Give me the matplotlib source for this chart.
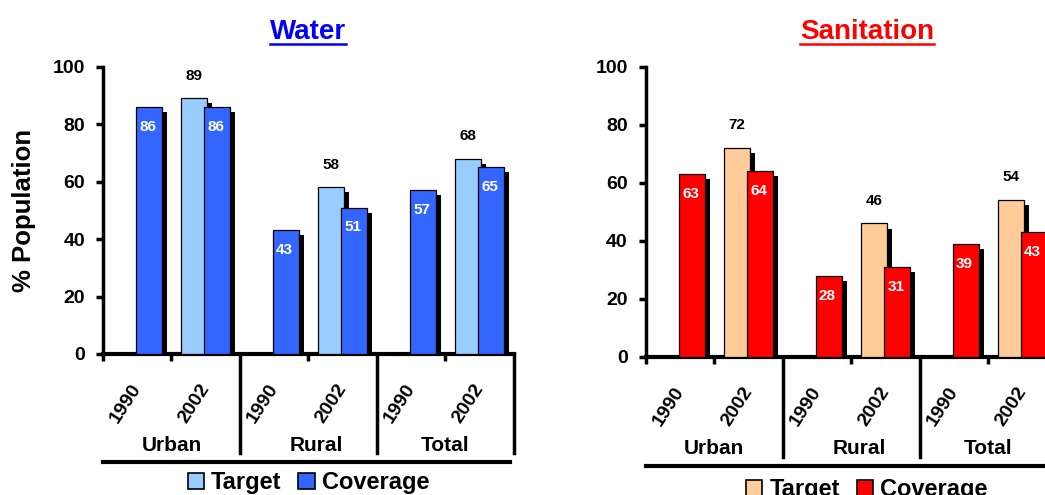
import matplotlib
matplotlib.use("Agg")
import matplotlib.pyplot as plt
from matplotlib.patches import Patch
from matplotlib.lines import Line2D
import matplotlib.transforms as mtransforms

plt.rcParams['font.family'] = ['Liberation Sans', 'DejaVu Sans']
plt.rcParams['font.weight'] = 'bold'

groups = ["Urban", "Rural", "Total"]
years = ["1990", "2002"] * 3

# None = no target bar for the baseline year
water_target = [None, 89, None, 58, None, 68]
water_cov = [86, 86, 43, 51, 57, 65]
san_target = [None, 72, None, 46, None, 54]
san_cov = [63, 64, 28, 31, 39, 43]

yticks = [0, 20, 40, 60, 80, 100]

fig = plt.figure(figsize=(10.45, 4.95), dpi=100)
ax_w = fig.add_axes([0.0986, 0.285, 0.393, 0.580])
ax_s = fig.add_axes([0.618, 0.279, 0.393, 0.586])

BW = 0.38
T_OFF = -0.164
C_OFF = 0.172
SH_X = 0.073
SH_Y = 1.75


def bar_with_shadow(ax, x, h, color, label_color, label_above):
    ax.bar(x + SH_X, max(h - SH_Y, 0), BW, color='black', zorder=2, linewidth=0)
    ax.bar(x, h, BW, color=color, edgecolor='black', linewidth=0.9, zorder=3)
    if label_above:
        ax.text(x, h + 5.5, str(h), ha='center', va='bottom', fontsize=11,
                color=label_color, fontweight='bold', zorder=5)
    else:
        ax.text(x - 0.02, h - 4.5, str(h), ha='center', va='top', fontsize=11,
                color=label_color, fontweight='bold', zorder=5)


def panel(ax, target, cov, c_target, c_cov, title, title_color, title_x, legend_x, legend_y):
    for i, (t, c) in enumerate(zip(target, cov)):
        if t is not None:
            bar_with_shadow(ax, i + T_OFF, t, c_target, 'black', True)
        bar_with_shadow(ax, i + C_OFF, c, c_cov, 'white', False)

    ax.set_xlim(-0.5, 5.5)
    ax.set_ylim(0, 100)
    ax.set_yticks(yticks)
    ax.tick_params(axis='y', labelsize=14, width=2.5, length=5, pad=8)
    for lab in ax.get_yticklabels():
        lab.set_fontweight('bold')
    ax.set_xticks([-0.5, 0.5, 2.5, 4.5])
    ax.set_xticklabels([])
    ax.tick_params(axis='x', width=2.5, length=5)
    for side in ['top', 'right']:
        ax.spines[side].set_visible(False)
    ax.spines['left'].set_linewidth(2.5)
    ax.spines['bottom'].set_linewidth(3)

    tr = mtransforms.blended_transform_factory(ax.transData, ax.transAxes)
    # long separators between groups
    for gx in [1.5, 3.5, 5.5]:
        ax.add_line(Line2D([gx, gx], [0, -0.345], transform=tr, color='black',
                           linewidth=2.5, clip_on=False))
    ax.add_line(Line2D([-0.5, 5.45], [-0.376, -0.376], transform=tr, color='black',
                       linewidth=3, clip_on=False))

    for i, y in enumerate(years):
        ax.annotate(y, xy=(i, 0), xycoords=tr, xytext=(-8, -36), textcoords='offset points',
                    rotation=57, ha='center', va='center', fontsize=14, fontweight='bold')
    for g, name in enumerate(groups):
        ax.annotate(name, xy=(2 * g + 0.5, 0), xycoords=tr, xytext=(0 if g != 1 else 6, -66),
                    textcoords='offset points', ha='center', va='center',
                    fontsize=15, fontweight='bold')

    handles = [Patch(facecolor=c_target, edgecolor='black', linewidth=1.2),
               Patch(facecolor=c_cov, edgecolor='black', linewidth=1.2)]
    ax.legend(handles, ["Target", "Coverage"], loc='center', ncol=2, frameon=False,
              bbox_to_anchor=(legend_x, legend_y), prop={'size': 17, 'weight': 'bold'},
              handlelength=0.7, handleheight=0.7, handletextpad=0.3, columnspacing=0.7,
              borderaxespad=0)

    t = ax.text(title_x, 1.0, title, transform=ax.transAxes, ha='center', va='baseline',
                fontsize=20, fontweight='bold', color=title_color)
    t.set_y(1.0 + 28 / ax.bbox.height)
    return t


t1 = panel(ax_w, water_target, water_cov, '#99CCFF', '#3366FF', 'Water', '#0000FF',
           0.50, 0.50, -0.448)
t2 = panel(ax_s, san_target, san_cov, '#FFCC99', '#FF0000', 'Sanitation', '#FF0000',
           0.538, 0.538, -0.458)
ax_w.set_ylabel('% Population', fontsize=18.5, fontweight='bold', labelpad=12)

# underline the panel titles
fig.canvas.draw()
renderer = fig.canvas.get_renderer()
for t in (t1, t2):
    bb = t.get_window_extent(renderer)
    y0 = bb.y0 + 1
    pts = fig.transFigure.inverted().transform([[bb.x0, y0], [bb.x1, y0]])
    fig.add_artist(Line2D(pts[:, 0], pts[:, 1], transform=fig.transFigure,
                          color=t.get_color(), linewidth=1.8))

fig.savefig('out.png', dpi=100)
